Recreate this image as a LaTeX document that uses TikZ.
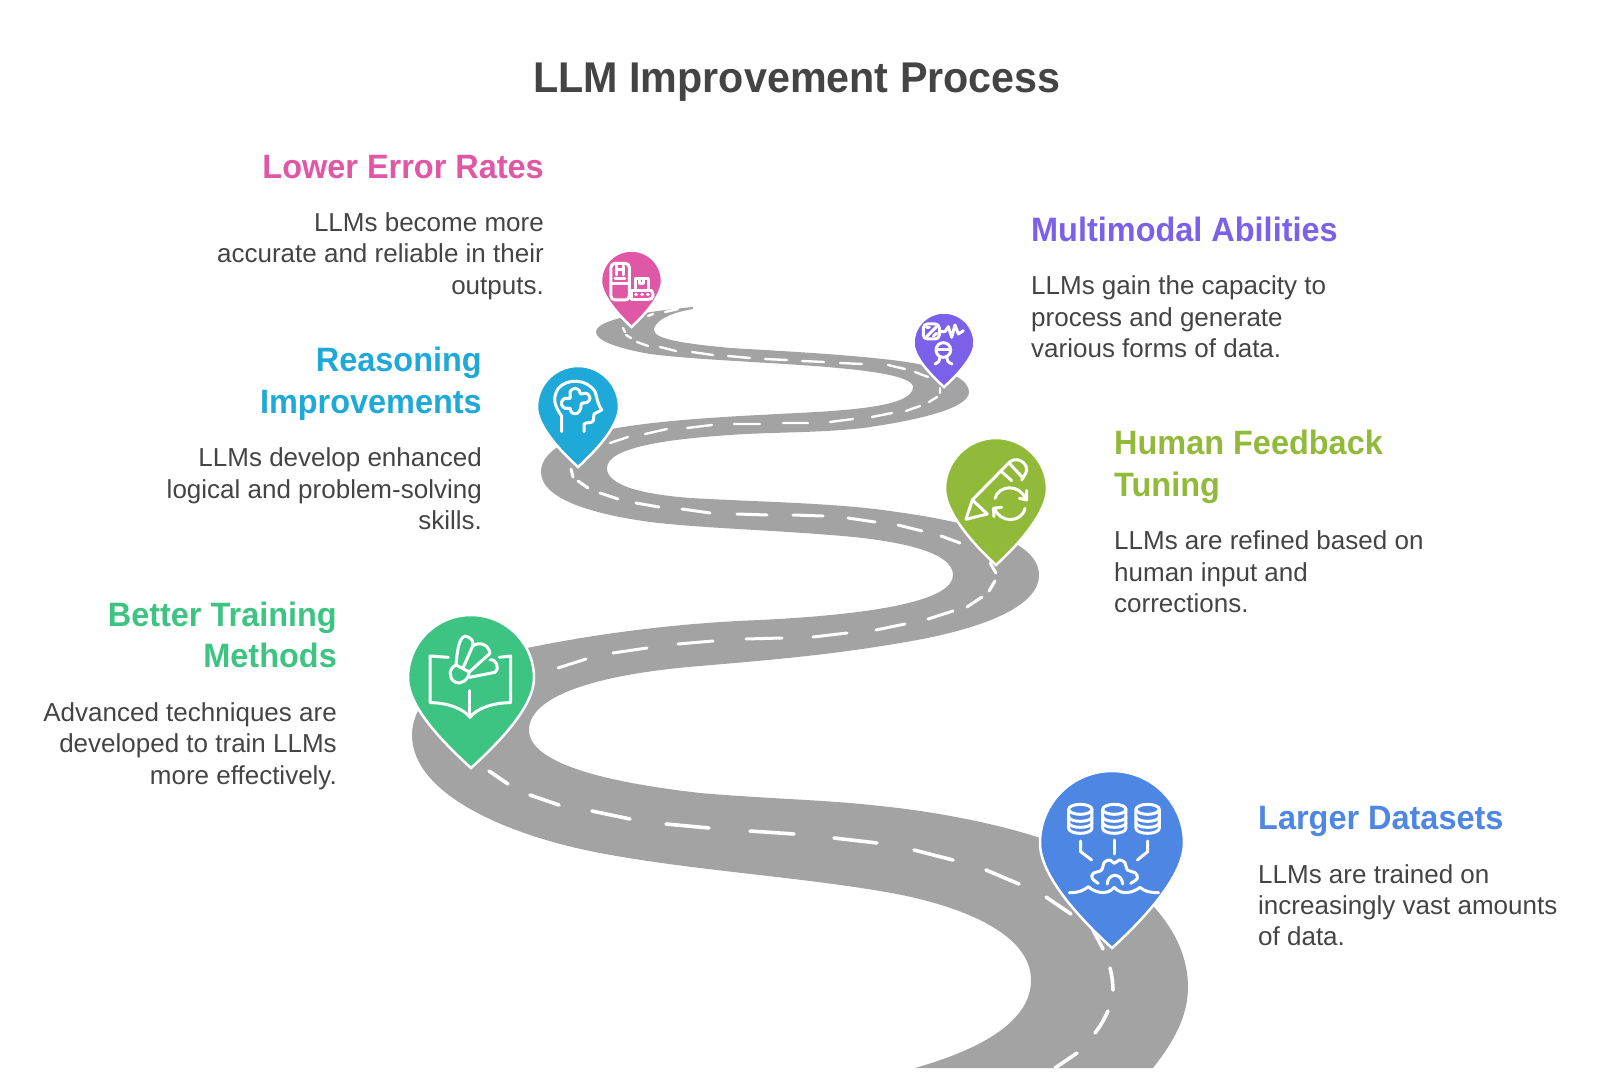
\documentclass[tikz,border=0pt]{standalone}
\usepackage{fontspec}
\setmainfont{Liberation Sans}
\newfontfamily\headfont[FakeStretch=0.96]{Liberation Sans}
\newfontfamily\bodyfont{Liberation Sans}
\definecolor{roadgrey}{HTML}{A3A3A3}
\definecolor{inkgrey}{HTML}{444444}
\definecolor{pblue}{HTML}{4E86E4}
\definecolor{pgreen}{HTML}{3EC482}
\definecolor{plime}{HTML}{92BA3A}
\definecolor{pcyan}{HTML}{1FA9D8}
\definecolor{ppink}{HTML}{E057A6}
\definecolor{ppurple}{HTML}{7B61E9}
\tikzset{
  lane/.style={white,line cap=round},
  pinedge/.style={draw=white,line width=2.5pt,line join=miter},
  icon/.style={white,line width=3pt,line cap=round,line join=round},
  headtext/.style={font=\headfont\bfseries\fontsize{33.8}{41.8}\selectfont,inner sep=0pt},
  bodytext/.style={text=inkgrey,font=\bodyfont\fontsize{26}{31.3}\selectfont,inner sep=0pt},
  rightside/.style={anchor=east,align=right},
  leftside/.style={anchor=west,align=left},
}
\newcommand{\pinmark}[5]{%
  \draw[pinedge,fill=#5] (#1,#4) .. controls ({#1-0.46*#3},{#4-0.42*#3}) and ({#1-#3},{#2+0.45*#3}) .. ({#1-#3},#2)
   arc[start angle=180,end angle=360,radius=#3]
   .. controls ({#1+#3},{#2+0.45*#3}) and ({#1+0.46*#3},{#4-0.42*#3}) .. (#1,#4) -- cycle;}
\newcommand{\cylmark}[1]{%
  \draw (#1,88) ellipse [x radius=35,y radius=15];
  \draw (#1-35,88) -- (#1-35,145) arc[start angle=180,end angle=0,x radius=35,y radius=15] -- (#1+35,88);
  \draw (#1-35,110) arc[start angle=180,end angle=0,x radius=35,y radius=14];
  \draw (#1-35,128) arc[start angle=180,end angle=0,x radius=35,y radius=14];}
\begin{document}
\begin{tikzpicture}[x=1pt,y=-1pt]
\useasboundingbox (0,0) rectangle (1600,1083);
% road
\fill[roadgrey] (915,1068) .. controls (985,1048) and (1031,1020) .. (1031,980)
 .. controls (1031,935) and (965,905) .. (880,891)
 .. controls (790,876) and (690,870) .. (600,853)
 .. controls (510,836) and (412,795) .. (412,735)
 .. controls (412,700) and (450,663) .. (527,648)
 .. controls (600,633) and (680,623) .. (760,620)
 .. controls (880,614) and (953,600) .. (953,575)
 .. controls (953,552) and (900,540) .. (830,535)
 .. controls (770,530) and (700,528) .. (650,522)
 .. controls (585,513) and (541,497) .. (541,472)
 .. controls (541,455) and (560,437) .. (617,428)
 .. controls (670,419) and (740,416) .. (797,413)
 .. controls (860,410) and (913,405) .. (913,387)
 .. controls (913,375) and (860,369) .. (800,365)
 .. controls (740,361) and (690,359) .. (650,354)
 .. controls (615,348) and (596,340) .. (596,332)
 .. controls (596,320) and (640,312) .. (693,307)
 -- (693,309)
 .. controls (668,313) and (654,322) .. (654,330)
 .. controls (654,340) and (690,344) .. (730,348)
 .. controls (800,352) and (870,356) .. (913,363)
 .. controls (950,370) and (969,380) .. (969,392)
 .. controls (969,408) and (920,420) .. (863,428)
 .. controls (820,433) and (770,432) .. (730,435)
 .. controls (670,439) and (607,447) .. (607,468)
 .. controls (607,485) and (640,494) .. (690,498)
 .. controls (760,502) and (840,503) .. (897,512)
 .. controls (970,522) and (1039,540) .. (1039,575)
 .. controls (1039,615) and (950,635) .. (900,643)
 .. controls (830,655) and (770,660) .. (700,666)
 .. controls (600,674) and (529,695) .. (529,730)
 .. controls (529,770) and (640,786) .. (700,793)
 .. controls (770,799) and (830,800) .. (880,806)
 .. controls (950,813) and (1010,828) .. (1037,837)
 .. controls (1120,862) and (1188,920) .. (1188,987)
 .. controls (1188,1015) and (1175,1040) .. (1153,1068)
 -- cycle;
% lane marks
\draw[lane,line width=2.4pt]
 (648,316)--(653,314) (665,312)--(678,309) (623,328)--(625,332) (626,335)--(631,338) (637,342)--(648,346) (660,347)--(676,351) (692,352)--(713,355)
 (728,356)--(750,358) (765,359)--(787,360) (802,361)--(824,362) (840,363)--(862,364)
 (888,365)--(905,369) (915,372)--(928,377) (940,388)--(940,393) (937,397)--(929,402) (920,406)--(906,411) (892,413)--(872,417) (853,419)--(830,422) (808,423)--(783,423) (760,424)--(734,424) (712,425)--(687,428) (667,429)--(645,434) (628,437)--(610,443);
\draw[lane,line width=3pt]
 (571,469)--(573,477) (578,481)--(588,488) (600,493)--(618,499) (636,503)--(659,507) (682,509)--(710,513) (737,514)--(767,515) (793,515)--(823,516) (848,518)--(875,522) (898,525)--(922,531) (941,536)--(960,543)
 (990,563)--(996,573) (995,581)--(989,591) (982,597)--(967,607) (953,611)--(928,619) (905,624)--(876,630) (847,633)--(813,637) (782,638)--(746,639) (713,641)--(678,644) (647,648)--(613,653) (586,659)--(558,668);
\draw[lane,line width=3.6pt]
 (489,771)--(508,784) (530,795)--(559,805) (592,811)--(630,819) (666,824)--(709,828) (750,831)--(794,834) (834,838)--(877,843)
 (914,850)--(953,860) (986,870)--(1019,884) (1046,897)--(1071,914) (1093,930)--(1103,949)
 (1110,968) to[bend left=6] (1113,990) (1108,1011) to[bend left=6] (1095,1033) (1077,1053)--(1055,1068);
% pins
\pinmark{1112}{843}{72}{948}{pblue}
\pinmark{471}{678}{63}{768}{pgreen}
\pinmark{996}{489}{51}{565}{plime}
\pinmark{578}{407}{41}{467}{pcyan}
\pinmark{631.5}{281}{30.5}{327}{ppink}
\pinmark{944}{343}{30.5}{387}{ppurple}
% blue icon
\begin{scope}[shift={(880,780)},x=0.3333pt,y=-0.3333pt,icon]
 \cylmark{601}\cylmark{703}\cylmark{803}
 \draw (602,183)--(602,215)--(635,240);
 \draw (703,180)--(703,222);
 \draw (803,183)--(803,215)--(772,240);
 \draw plot[smooth,tension=0.7] coordinates {(655,310)(637,295)(640,280)(665,270)(672,248)(690,240)(703,250)(718,240)(735,248)(742,270)(765,278)(772,295)(752,310)};
 \draw (682,312) arc[start angle=180,end angle=360,x radius=23,y radius=26];
 \draw (568,338) .. controls (600,338) and (612,330) .. (625,320) .. controls (640,335) and (680,350) .. (703,322) .. controls (725,350) and (765,335) .. (780,322) .. controls (795,335) and (810,338) .. (836,338);
\end{scope}
% green icon
\begin{scope}[shift={(380,580)},x=0.3333pt,y=-0.3333pt,icon]
 \draw (205,232)--(150,228)--(150,368) .. controls (200,368) and (250,385) .. (270,412) .. controls (290,385) and (340,368) .. (392,368) -- (392,228) -- (358,232);
 \draw (270,332)--(270,412);
 \draw (228,255) .. controls (232,215) and (235,175) .. (255,168) .. controls (275,172) and (282,185) .. (278,198) -- (250,262);
 \draw (278,198) .. controls (295,185) and (325,190) .. (330,220) -- (268,276);
 \draw (330,240) .. controls (350,235) and (360,270) .. (345,277) -- (268,292);
 \draw (228,255) .. controls (205,265) and (205,295) .. (225,306) .. controls (245,315) and (265,300) .. (268,276) -- (228,255);
\end{scope}
% cyan icon
\begin{scope}[shift={(520,230)},x=0.3333pt,y=-0.3333pt,icon]
 \draw (125,605)--(125,558) .. controls (105,530) and (95,505) .. (115,475) .. controls (140,445) and (200,445) .. (225,485) .. controls (232,505) and (230,515) .. (245,540) -- (222,552) -- (220,572) .. controls (215,582) and (200,575) .. (192,582) -- (192,605);
 \draw plot[smooth cycle,tension=0.7] coordinates {(125,515)(135,505)(150,505)(150,485)(165,475)(178,482)(182,492)(200,490)(210,505)(200,518)(185,520)(182,535)(172,550)(155,548)(150,535)(135,535)(125,525)};
\end{scope}
% pink icon
\begin{scope}[shift={(520,230)},x=0.3333pt,y=-0.3333pt,icon]
 \draw[rounded corners=4pt] (273,100) rectangle (328,210);
 \draw (273,160)--(328,160);
 \draw (290,108)--(290,135) (310,108)--(310,135);
 \draw (295,120)--(305,120);
 \draw (285,145)--(315,145);
 \draw (347,180)--(347,145)--(385,145)--(385,180);
 \draw (358,145)--(358,160)--(372,160)--(372,145);
 \draw (335,182)--(395,182) (335,182)--(335,208)--(385,208);
 \draw (385,208) .. controls (400,208) and (403,195) .. (395,182);
 \draw (347,195)--(350,195) (365,195)--(368,195) (382,195)--(385,195);
\end{scope}
% purple icon
\begin{scope}[shift={(880,290)},x=0.3333pt,y=-0.3333pt,icon]
 \draw[rounded corners=4pt] (130,102) rectangle (178,147);
 \draw (140,140)--(170,110);
 \draw (140,112)--(148,112) (160,138)--(170,130);
 \draw (183,125)--(195,125)--(205,110)--(215,142)--(225,105)--(235,132)--(250,122);
 \draw (190,180) circle[radius=22];
 \draw (170,180)--(210,180);
 \draw (165,222) .. controls (175,218) and (180,212) .. (180,202);
 \draw (216,222) .. controls (205,218) and (200,212) .. (200,202);
\end{scope}
% lime icon
\begin{scope}[shift={(880,290)},x=0.3333pt,y=-0.3333pt,icon]
 \draw (322,672)--(258,688)--(277,630)--(390,515) .. controls (420,495) and (450,530) .. (437,550) -- (425,570);
 \draw (277,630)--(322,672);
 \draw (365,545)--(395,572);
 \draw (388,520)--(425,560);
 \draw (345,625) .. controls (355,585) and (420,580) .. (437,628);
 \draw (418,625)--(440,630)--(440,602);
 \draw (435,655) .. controls (425,700) and (360,700) .. (343,655);
 \draw (342,680)--(340,655)--(365,652);
\end{scope}
% text
\node[text=inkgrey,font=\headfont\bfseries\fontsize{43}{48}\selectfont,inner sep=0pt] (title) at (797,82) {LLM Improvement Process};
\node[headtext,rightside,text=ppink] (h1) at (544,167) {Lower Error Rates};
\node[bodytext,rightside] (b1) at (544,256) {LLMs become more\\accurate and reliable in their\\outputs.};
\node[headtext,leftside,text=ppurple] (h2) at (1031,229) {Multimodal Abilities};
\node[bodytext,leftside] (b2) at (1031,317) {LLMs gain the capacity to\\process and generate\\various forms of data.};
\node[headtext,rightside,text=pcyan] (h3) at (482,384) {Reasoning\\Improvements};
\node[bodytext,rightside] (b3) at (482,489) {LLMs develop enhanced\\logical and problem-solving\\skills.};
\node[headtext,leftside,text=plime] (h4) at (1114,467) {Human Feedback\\Tuning};
\node[bodytext,leftside] (b4) at (1114,572) {LLMs are refined based on\\human input and\\corrections.};
\node[headtext,rightside,text=pgreen] (h5) at (337,635) {Better Training\\Methods};
\node[bodytext,rightside] (b5) at (337,746) {Advanced techniques are\\developed to train LLMs\\more effectively.};
\node[headtext,leftside,text=pblue] (h6) at (1258,821) {Larger Datasets};
\node[bodytext,leftside] (b6) at (1258,905) {LLMs are trained on\\increasingly vast amounts\\of data.};
\end{tikzpicture}
\end{document}
